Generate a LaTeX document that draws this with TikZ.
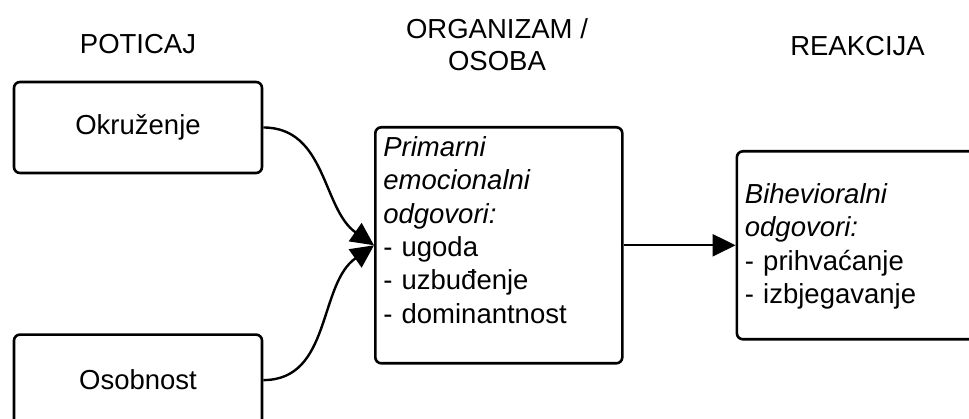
\documentclass[tikz,border=0pt]{standalone}
\usepackage{fontspec}
\setmainfont{Liberation Sans}
\usetikzlibrary{arrows.meta,positioning}

\begin{document}
\begin{tikzpicture}[
    x=1pt, y=1pt,
    box/.style={rectangle, draw, rounded corners=6pt, line width=2.6pt, inner sep=0pt, font=\fontsize{27.5}{33.4}\selectfont},
    listbox/.style={box, align=left, text width=231pt, inner xsep=8pt, inner ysep=0pt},
    title/.style={font=\fontsize{27.5}{32}\selectfont, align=center},
    arrow/.style={-{Triangle[length=23pt, width=22pt]}, line width=2.4pt}
]
    \useasboundingbox (0,0) rectangle (969,419);

    % Stimulus
    \node[box, minimum width=248pt, minimum height=91pt] (okr) at (138,291.5) {Okru\v{z}enje};
    \node[box, minimum width=248pt, minimum height=91pt, below=159pt of okr] (oso) {Osobnost};

    % Organism and response
    \node[listbox, text height=29pt, text depth=207pt, anchor=north west] (org) at (374,293)
        {\textit{Primarni}\\ \textit{emocionalni}\\ \textit{odgovori:}\\ - ugoda\\ - uzbuđenje\\ - dominantnost};
    \node[listbox, text height=52pt, text depth=136pt, right=112pt of org] (rea)
        {\textit{Bihevioralni}\\ \textit{odgovori:}\\ - prihvaćanje\\ - izbjegavanje};

    % Headings
    \node[title] (poticaj) at (138,374.5) {POTICAJ};
    \node[title] (organizam) at (497,374.5) {ORGANIZAM /\\OSOBA};
    \node[title] (reakcija) at (857.5,373) {REAKCIJA};

    % Arrows
    \draw[arrow] (okr.east) to[out=0, in=145] (org.west);
    \draw[arrow] (oso.east) to[out=0, in=215] (org.west);
    \draw[arrow] (org) -- (rea);
\end{tikzpicture}
\end{document}
